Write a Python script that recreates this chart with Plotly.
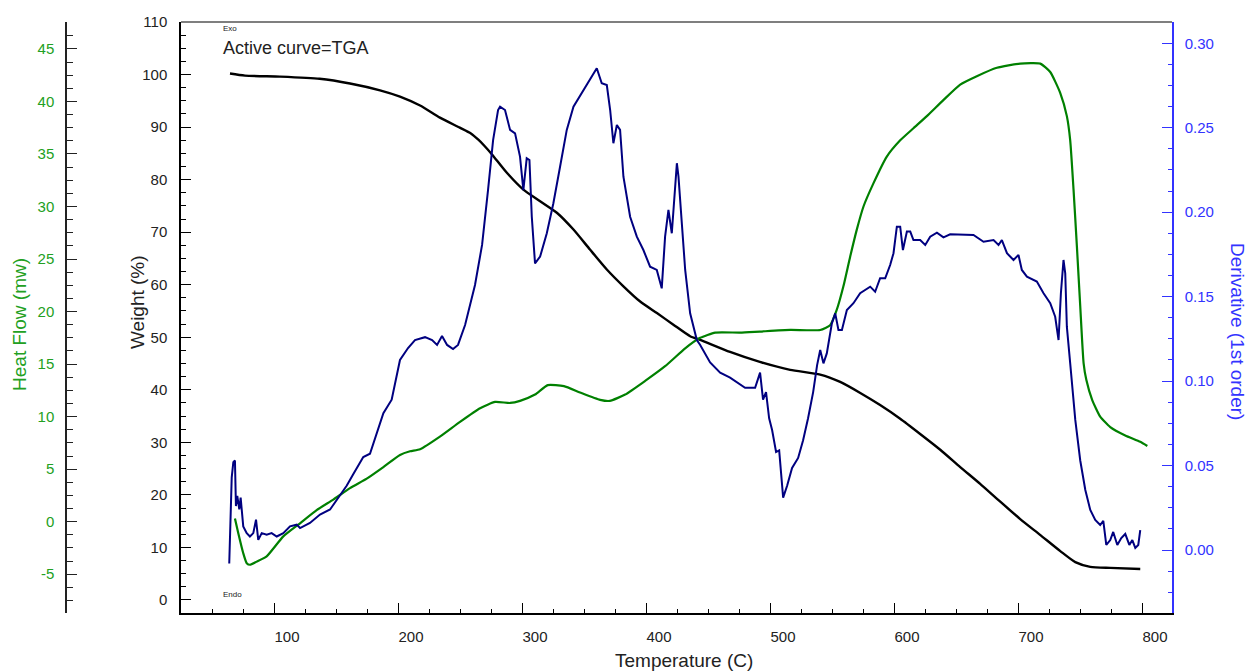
import plotly.graph_objects as go

# ---------------- data ----------------
temp_tga = [63.7, 75.8, 104, 136, 160.5, 184.7, 200.8, 217, 233, 249,
            258, 264, 269, 275, 287, 300.3, 313.8, 327.3, 340.7, 354, 367.6,
            381, 394.5, 408, 421.3, 434.8, 442.9, 467, 491, 515.5, 539.7,
            555.8, 572, 588, 604.2, 620.3, 636.5, 652.6, 668.7, 684.9, 701,
            717, 733.3, 745.4, 757.5, 773.6, 797.8]
weight = [100.2, 99.8, 99.6, 99.2, 98.3, 97.0, 95.8, 94.1, 91.8, 89.9,
          88.8, 87.6, 86.4, 84.8, 81.3, 78.1, 75.9, 73.7, 70.5, 66.7, 62.9,
          59.7, 56.8, 54.6, 52.4, 50.2, 49.5, 47.2, 45.3, 43.8, 42.9,
          41.5, 39.4, 37.1, 34.5, 31.6, 28.6, 25.3, 22.1, 18.7, 15.4,
          12.4, 9.3, 7.2, 6.3, 6.1, 5.9]

temp_hf = [67.7, 70.4, 74.4, 77.2, 79.8, 85.2, 93.3, 106.7, 120.2, 133.6,
           147, 160.5, 174, 187.4, 200.8, 208.9, 217, 233, 249.2, 265.4,
           277.5, 289.6, 297.6, 309.7, 320, 333, 346, 362.2, 370, 382.4,
           398.5, 414.6, 430.8, 442.9, 455, 475, 491, 515.5, 539.7, 547.7,
           553, 558.4, 563.8, 569.2, 574.6, 582.6, 593.4, 604.2, 614.9, 625.7,
           639.2, 652.6, 666, 682.2, 701, 717.2, 725.2, 733.3, 738.6, 741.3,
           744, 746.7, 749.4, 752.1, 754.3, 759, 765.5, 773.6, 785.7, 797.8,
           803.5]
heat_flow = [0.3, -1.1, -3.0, -3.95, -4.1, -3.8, -3.3, -1.4, -0.15, 1.1,
             2.1, 3.2, 4.1, 5.2, 6.35, 6.7, 6.9, 8.1, 9.5, 10.8,
             11.4, 11.3, 11.5, 12.1, 13.0, 12.9, 12.3, 11.6, 11.5, 12.1,
             13.4, 14.8, 16.5, 17.5, 18.0, 18.0, 18.1, 18.25, 18.25, 18.7,
             20.15, 22.4, 25.2, 27.8, 30.0, 32.2, 34.75, 36.3, 37.45, 38.6,
             40.15, 41.6, 42.4, 43.2, 43.6, 43.6, 42.8, 40.8, 38.6, 36.3,
             31.6, 26.2, 20.5, 15.1, 13.5, 11.6, 10.0, 9.0, 8.2, 7.6,
             7.2]

temp_der = [63.1, 65.1, 66.4, 67.7, 68.5, 69.6, 71.2, 72.3, 74.4, 77.2,
            79.8, 82.5, 84.7, 86.5, 89.3, 93.3, 97.3, 101.4, 106.7, 112.1,
            117.5, 120.2, 128.2, 136.3, 144.4, 152.4, 157.8, 163.2, 171.2, 176.6,
            182.0, 187.4, 194.1, 200.8, 207.3, 212.9, 221.0, 226.7, 230.7, 234.7,
            238.8, 243.6, 247.6, 253.3, 261.3, 267.0, 271.8, 275.9, 279.9, 281.5,
            285.5, 289.6, 293.6, 297.6, 300.3, 303.0, 305.2, 307.1, 309.7, 313.8,
            319.2, 324.5, 329.9, 335.3, 340.7, 348.7, 354.1, 359.5, 363.5, 367.6,
            370.3, 372.9, 375.7, 378.3, 381.0, 386.4, 391.8, 397.1, 402.5, 407.9,
            411.9, 414.6, 417.3, 420.0, 424.1, 425.4, 428.1, 430.8, 434.8, 440.2,
            442.9, 450.9, 459.0, 467.0, 479.1, 487.2, 491.2, 493.6, 496.0, 498.5,
            500.9, 504.1, 506.6, 509.8, 513.0, 517.0, 521.9, 525.9, 529.9, 534.0,
            537.2, 539.7, 542.3, 545.0, 549.1, 551.8, 554.4, 557.2, 561.2, 566.5,
            571.9, 580.0, 584.0, 588.0, 592.1, 596.1, 598.8, 601.5, 604.2, 606.4,
            609.6, 612.3, 614.9, 620.3, 624.4, 628.4, 633.8, 639.1, 644.5, 655.3,
            663.3, 671.4, 679.5, 683.5, 686.2, 690.3, 695.6, 699.6, 702.3, 706.4,
            714.4, 719.8, 725.2, 729.2, 731.9, 733.8, 735.9, 737.3, 738.6, 741.3,
            745.4, 749.4, 753.5, 757.5, 761.5, 765.5, 768.0, 770.4, 773.6, 776.0,
            779.3, 782.5, 785.7, 789.0, 791.4, 793.8, 796.2, 797.8]
derivative = [-0.008, 0.043, 0.052, 0.053, 0.026, 0.032, 0.024, 0.031, 0.014, 0.010,
              0.008, 0.010, 0.018, 0.006, 0.010, 0.009, 0.010, 0.008, 0.010, 0.014,
              0.015, 0.013, 0.016, 0.021, 0.024, 0.032, 0.038, 0.045, 0.055, 0.057,
              0.069, 0.081, 0.089, 0.1125, 0.1196, 0.1243, 0.126, 0.1243, 0.1214, 0.1267,
              0.1214, 0.119, 0.1214, 0.1332, 0.1569, 0.1806, 0.2131, 0.2427, 0.2605, 0.2625,
              0.2605, 0.2487, 0.2467, 0.2329, 0.2131, 0.2319, 0.2309, 0.1973, 0.1697, 0.1737,
              0.1875, 0.2053, 0.2269, 0.2487, 0.2625, 0.2723, 0.2783, 0.2852, 0.2763, 0.2753,
              0.2605, 0.2408, 0.2516, 0.2487, 0.221, 0.1973, 0.1855, 0.1776, 0.1677, 0.1658,
              0.1549, 0.1855, 0.2013, 0.1875, 0.229, 0.221, 0.1934, 0.1658, 0.1401, 0.1243,
              0.1214, 0.111, 0.105, 0.102, 0.096, 0.096, 0.105, 0.089, 0.0935, 0.078,
              0.071, 0.058, 0.059, 0.031, 0.038, 0.0486, 0.0545, 0.065, 0.078, 0.0935,
              0.1095, 0.1184, 0.1105, 0.1164, 0.1342, 0.1401, 0.1303, 0.1303, 0.1421, 0.1461,
              0.152, 0.1559, 0.1529, 0.1609, 0.1609, 0.1687, 0.1757, 0.1914, 0.1914, 0.1776,
              0.1885, 0.1885, 0.1835, 0.1835, 0.1806, 0.1855, 0.1879, 0.1851, 0.1869, 0.1865,
              0.1865, 0.1825, 0.1835, 0.1806, 0.1835, 0.1757, 0.1717, 0.1747, 0.1658, 0.1618,
              0.1589, 0.152, 0.1461, 0.1381, 0.1243, 0.152, 0.1717, 0.1638, 0.1322, 0.1105,
              0.077, 0.053, 0.0355, 0.0237, 0.0178, 0.0148, 0.0172, 0.003, 0.0059, 0.0107,
              0.003, 0.0071, 0.0095, 0.003, 0.0059, 0.0012, 0.003, 0.0118]

hf_tick_values = [-5, 0, 5, 10, 15, 20, 25, 30, 35, 40, 45]
hf_tick_labels = ["-5", "0", "5", "10", "15", "20", "25", "30", "35", "40", "45"]

assert len(temp_tga) == len(weight)
assert len(temp_hf) == len(heat_flow)
assert len(temp_der) == len(derivative)

# ---------------- styling ----------------
FONT = "Liberation Sans, Arial, sans-serif"
GREEN_LINE = "#008000"
GREEN_TXT = "#22a022"
NAVY = "#000080"
BLUE_AX = "#3333ff"
TXT = "#222222"

fig = go.Figure()
fig.add_trace(go.Scatter(x=temp_hf, y=heat_flow, yaxis="y2", mode="lines",
                         line=dict(color=GREEN_LINE, width=2.2, shape="spline", smoothing=0.5),
                         name="Heat Flow"))
fig.add_trace(go.Scatter(x=temp_tga, y=weight, yaxis="y", mode="lines",
                         line=dict(color="#000000", width=2.4, shape="spline", smoothing=0.6),
                         name="TGA"))
fig.add_trace(go.Scatter(x=temp_der, y=derivative, yaxis="y3", mode="lines",
                         line=dict(color=NAVY, width=2.0),
                         name="Derivative"))

fig.update_layout(
    width=1247, height=672,
    margin=dict(l=40, r=75, t=22, b=59),
    paper_bgcolor="white", plot_bgcolor="white",
    showlegend=False,
    font=dict(family=FONT, size=15, color=TXT),
    xaxis=dict(domain=[0.12456, 1.0], range=[24.2, 823.4],
               tickmode="linear", tick0=0, dtick=100,
               ticks="inside", ticklen=10, tickwidth=1, tickcolor="#000",
               showline=True, linecolor="#000", linewidth=1.5,
               showgrid=False, zeroline=False,
               tickfont=dict(size=15, color=TXT),
               ticklabelshift=12, ticklabelstandoff=9,
               minor=dict(dtick=25, tick0=0, ticks="inside", ticklen=4,
                          tickcolor="#000", showgrid=False)),
    yaxis=dict(range=[-2.48, 110], tickmode="linear", tick0=0, dtick=10,
               ticks="inside", ticklen=10, tickwidth=1, tickcolor="#000",
               showline=True, linecolor="#000", linewidth=1.5,
               showgrid=False, zeroline=False,
               tickfont=dict(size=15, color=TXT), ticklabelstandoff=9,
               minor=dict(dtick=2.5, tick0=0, ticks="inside", ticklen=5,
                          tickcolor="#000", showgrid=False)),
    yaxis2=dict(overlaying="y", anchor="free", position=0.02297, side="left",
                range=[-8.69, 47.56], tickmode="array",
                tickvals=hf_tick_values, ticktext=hf_tick_labels,
                ticks="inside", ticklen=10, tickwidth=1, tickcolor="#222",
                showline=True, linecolor="#222", linewidth=1.5,
                showgrid=False, zeroline=False,
                tickfont=dict(size=15, color=GREEN_TXT), ticklabelstandoff=8,
                minor=dict(tickmode="linear", dtick=1.25, tick0=0, ticks="inside", ticklen=6,
                           tickcolor="#222", showgrid=False)),
    yaxis3=dict(overlaying="y", anchor="x", side="right",
                range=[-0.0373, 0.3126], tickmode="linear", tick0=0, dtick=0.05,
                tickformat=".2f",
                ticks="inside", ticklen=10, tickwidth=1, tickcolor=BLUE_AX,
                showline=True, linecolor=BLUE_AX, linewidth=1.5,
                showgrid=False, zeroline=False,
                tickfont=dict(size=15, color=BLUE_AX), ticklabelstandoff=8,
                minor=dict(dtick=0.0125, tick0=0, ticks="inside", ticklen=4,
                           tickcolor=BLUE_AX, showgrid=False)),
    shapes=[dict(type="line", xref="paper", yref="paper", x0=0.12456, x1=1.0,
                 y0=1, y1=1, line=dict(color="#555555", width=1.5))],
)

ann = [
    dict(text="Temperature (C)", x=0.5689, y=-0.0812, xanchor="center", yanchor="middle",
         font=dict(size=19, color=TXT)),
    dict(text="Weight (%)", x=0.0857, y=0.5262, xanchor="center", yanchor="middle",
         textangle=-90, font=dict(size=19, color=TXT)),
    dict(text="Heat Flow (mw)", x=-0.0186, y=0.489, xanchor="center", yanchor="middle",
         textangle=-90, font=dict(size=19, color=GREEN_TXT)),
    dict(text="Derivative (1st order)", x=1.0574, y=0.4755, xanchor="center", yanchor="middle",
         textangle=90, font=dict(size=19, color=BLUE_AX)),
    dict(text="Active curve=TGA", x=0.1595, y=0.9555, xanchor="left", yanchor="middle",
         font=dict(size=18, color=TXT)),
    dict(text="Exo", x=0.1595, y=0.9898, xanchor="left", yanchor="middle",
         font=dict(size=8, color=TXT)),
    dict(text="Endo", x=0.1595, y=0.0321, xanchor="left", yanchor="middle",
         font=dict(size=8, color=TXT)),
]
for a in ann:
    a.update(xref="paper", yref="paper", showarrow=False)
fig.update_layout(annotations=ann)

fig.write_html(
    "out.html",
    config={"displayModeBar": False},
    post_script="document.body.style.margin='0';document.body.style.overflow='hidden';",
)
